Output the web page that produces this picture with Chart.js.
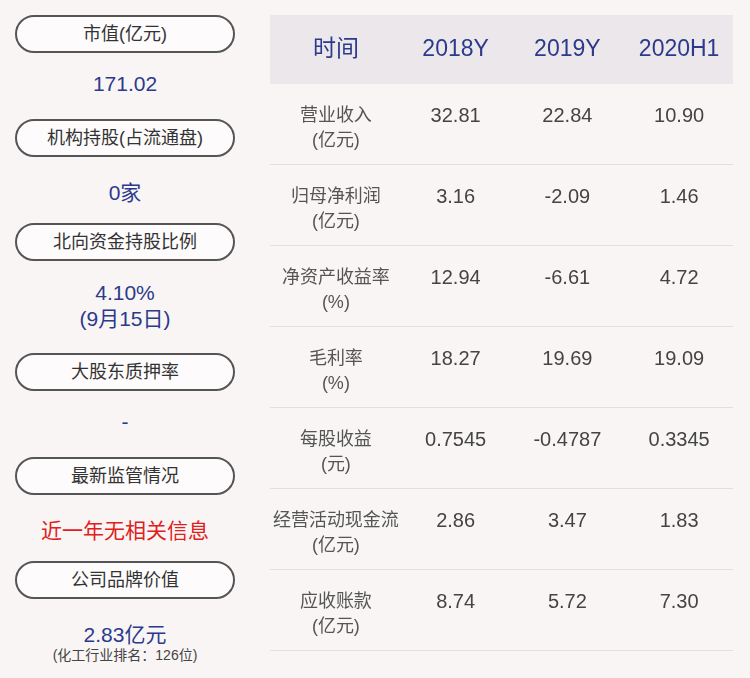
<!DOCTYPE html>
<html><head><meta charset="utf-8">
<script src="https://cdn.jsdelivr.net/npm/chart.js@4"></script>
<style>
body{margin:0;background:#f9f5f5;font-family:"Liberation Sans","Noto Sans CJK SC",sans-serif;width:750px;height:678px;position:relative;overflow:hidden}
.pill{position:absolute;left:15px;width:216px;height:34px;border:2px solid #555;border-radius:19px;background:#fdfbfb;text-align:center;line-height:34px;font-size:18px;color:#333}
.v{position:absolute;left:15px;width:220px;text-align:center;color:#2b3a8c;font-size:21px}
#wrap{position:absolute;left:270px;top:3px;width:463px;height:648px}
</style></head><body>
<div class="pill" style="top:15px">市值(亿元)</div>
<div class="v" style="top:72px">171.02</div>
<div class="pill" style="top:119px">机构持股(占流通盘)</div>
<div class="v" style="top:176px">0家</div>
<div class="pill" style="top:223px">北向资金持股比例</div>
<div class="v" style="top:280px;line-height:26px">4.10%<br>(9月15日)</div>
<div class="pill" style="top:353px">大股东质押率</div>
<div class="v" style="top:410px">-</div>
<div class="pill" style="top:457px">最新监管情况</div>
<div class="v" style="top:514px;color:#e0201c">近一年无相关信息</div>
<div class="pill" style="top:561px">公司品牌价值</div>
<div class="v" style="top:618px">2.83亿元</div>
<div class="v" style="top:644px;font-size:14px;color:#444">(化工行业排名：126位)</div>
<div id="wrap"><canvas id="c"></canvas></div>
<script>
// table data
const columns = ['时间', '2018Y', '2019Y', '2020H1'];
const rowLabels = [
  ['营业收入', '(亿元)'],
  ['归母净利润', '(亿元)'],
  ['净资产收益率', '(%)'],
  ['毛利率', '(%)'],
  ['每股收益', '(元)'],
  ['经营活动现金流', '(亿元)'],
  ['应收账款', '(亿元)']
];
const v2018 = ['32.81', '3.16', '12.94', '18.27', '0.7545', '2.86', '8.74'];
const v2019 = ['22.84', '-2.09', '-6.61', '19.69', '-0.4787', '3.47', '5.72'];
const v2020 = ['10.90', '1.46', '4.72', '19.09', '0.3345', '1.83', '7.30'];

const rowCats = ['header', ...rowLabels.map((r, i) => 'r' + i)];
const font = '"Liberation Sans","Noto Sans CJK SC",sans-serif';

const tablePlugin = {
  id: 'table',
  afterDraw(chart) {
    const { ctx, scales: { x, y }, chartArea: a } = chart;
    const rh = y.getPixelForValue(1) - y.getPixelForValue(0);
    ctx.save();
    // header band
    const hy = y.getPixelForValue(0);
    ctx.fillStyle = '#ebe7ea';
    ctx.fillRect(a.left, hy - rh / 2 + 12, a.right - a.left, rh - 12);
    ctx.textAlign = 'center';
    ctx.textBaseline = 'middle';
    ctx.fillStyle = '#2b3a8c';
    ctx.font = '23px ' + font;
    columns.forEach((c, i) => ctx.fillText(c, x.getPixelForValue(i) + (i ? 12 - (i - 1) * 4 : 8), hy + 6));
    const cols = [v2018, v2019, v2020];
    rowLabels.forEach((lab, r) => {
      const cy = y.getPixelForValue(r + 1);
      ctx.fillStyle = '#555';
      ctx.font = '18px ' + font;
      ctx.fillText(lab[0], x.getPixelForValue(0) + 8, cy - 8);
      ctx.fillText(lab[1], x.getPixelForValue(0) + 8, cy + 17);
      ctx.fillStyle = '#444';
      ctx.font = '20px ' + font;
      cols.forEach((vals, ci) => ctx.fillText(vals[r], x.getPixelForValue(ci + 1) + 12 - ci * 4, cy - 8));
      ctx.strokeStyle = '#e3dfe0';
      ctx.lineWidth = 1;
      ctx.beginPath();
      ctx.moveTo(a.left, Math.round(cy + rh / 2) - 0.5);
      ctx.lineTo(a.right, Math.round(cy + rh / 2) - 0.5);
      ctx.stroke();
    });
    ctx.restore();
  }
};

new Chart(document.getElementById('c'), {
  type: 'bar',
  data: { labels: columns, datasets: [{ data: [], yAxisID: 'y' }] },
  options: {
    responsive: true, maintainAspectRatio: false, animation: false,
    layout: { padding: 0 },
    plugins: { legend: { display: false }, tooltip: { enabled: false } },
    scales: {
      x: { type: 'category', labels: columns, display: false, offset: true },
      y: { type: 'category', labels: rowCats, display: false, offset: true }
    }
  },
  plugins: [tablePlugin]
});
</script>
</body></html>
